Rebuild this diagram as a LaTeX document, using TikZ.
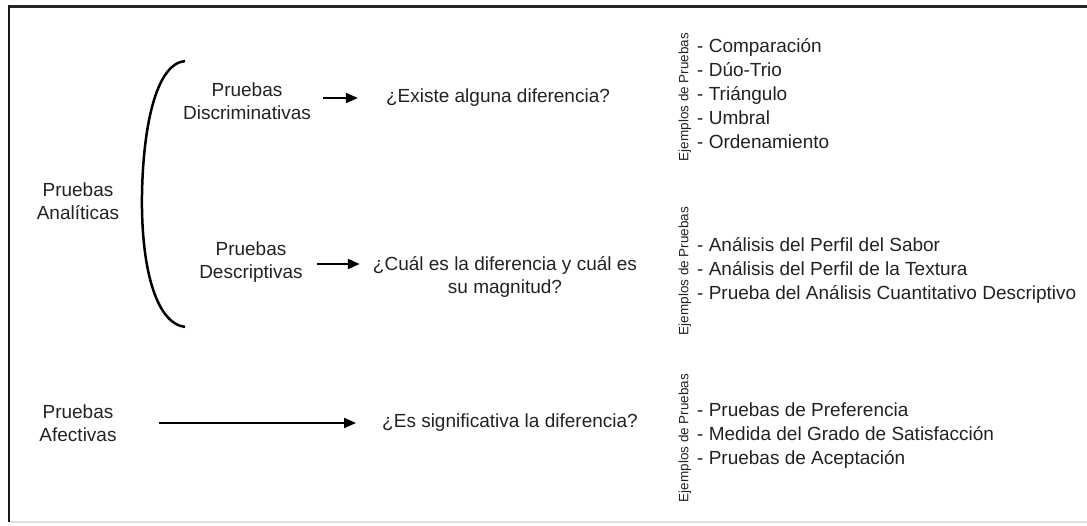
\documentclass[tikz,border=0pt]{standalone}
\usepackage{fontspec}
\setmainfont{Liberation Sans}
\usetikzlibrary{arrows.meta}
\definecolor{txt}{HTML}{222222}
\begin{document}
\begin{tikzpicture}[x=1pt,y=-1pt,
  lbl/.style={inner sep=0pt, align=center, text=txt, font=\fontsize{19}{23}\selectfont},
  lst/.style={inner sep=0pt, anchor=west, align=left, text=txt, font=\fontsize{19}{24}\selectfont},
  rot/.style={inner sep=0pt, rotate=90, text=txt, font=\fontsize{13.5}{15}\selectfont},
  arr/.style={line width=2pt, -{Triangle[length=12pt,width=10pt]}}]
\useasboundingbox (0,0) rectangle (1087,526);
% frame
\draw[line width=3pt, black!85] (7.5,6.5) -- (1087,6.5);
\draw[line width=2.5pt, black!90] (9,5) -- (9,522);
\draw[line width=1.5pt, black!12] (10,522) -- (1087,522);
% bracket
\draw[line width=2.5pt] (185,61) .. controls (155,64) and (143,130) .. (142,195)
  .. controls (141,265) and (155,323) .. (185,327);
% nodes
\node[lbl] (ana) at (78,201) {Pruebas\\Analíticas};
\node[lbl] (disc) at (247,101.5) {Pruebas\\Discriminativas};
\node[lbl] (desc) at (251,262) {Pruebas\\Descriptivas};
\node[lbl] (afec) at (78,423) {Pruebas\\Afectivas};
\node[lbl] (q1) at (498,98) {¿Existe alguna diferencia?};
\node[lbl] (q2) at (505,276.5) {¿Cuál es la diferencia y cuál es\\su magnitud?};
\node[lbl] (q3) at (510,423) {¿Es significativa la diferencia?};
% arrows
\draw[arr, shorten <=12pt, shorten >=28pt] ([yshift=3.5pt]disc.east) -- ([yshift=3.5pt]disc.east -| q1.west);
\draw[arr, shorten <=14pt, shorten >=13pt] ([yshift=-2pt]desc.east) -- ([yshift=-2pt]desc.east -| q2.west);
\draw[arr, shorten <=42pt, shorten >=26pt] (afec.east) -- (afec.east -| q3.west);
% lists
\node[lst] (l1) at (697,94) {- Comparación\\- Dúo-Trio\\- Triángulo\\- Umbral\\- Ordenamiento};
\node[rot] (e1) at (685,97) {Ejemplos de Pruebas};
\node[lst] (l2) at (697,270) {- Análisis del Perfil del Sabor\\- Análisis del Perfil de la Textura\\- Prueba del Análisis Cuantitativo Descriptivo};
\node[rot] (e2) at (685,271) {Ejemplos de Pruebas};
\node[lst] (l3) at (697,436) {- Pruebas de Preferencia\\- Medida del Grado de Satisfacción\\- Pruebas de Aceptación};
\node[rot] (e3) at (685,438) {Ejemplos de Pruebas};
\end{tikzpicture}
\end{document}
